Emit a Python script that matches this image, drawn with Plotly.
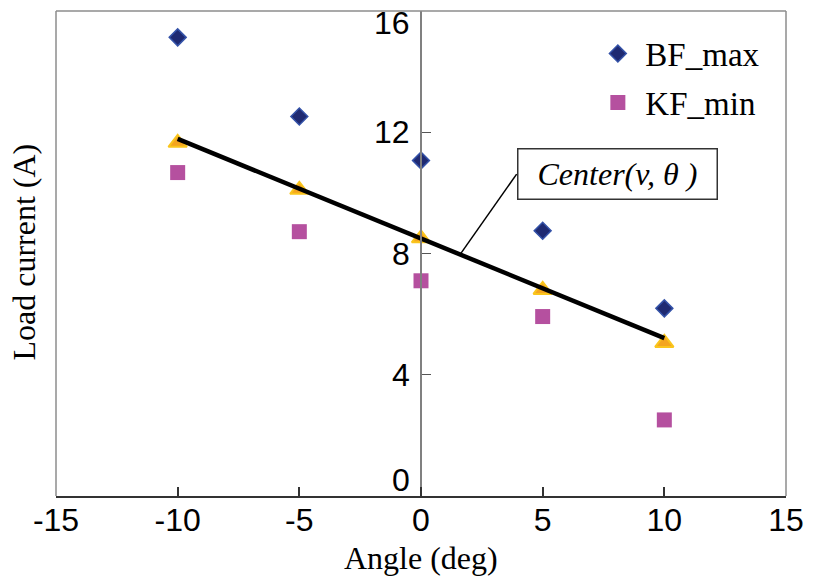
import plotly.graph_objects as go

# Measured load current versus angle
angle = [-10, -5, 0, 5, 10]
bf_max = [15.13, 12.52, 11.07, 8.75, 6.19]
kf_min = [10.67, 8.72, 7.10, 5.92, 2.51]
center = [11.65, 10.10, 8.50, 6.80, 5.05]

# Fitted centre line (end points)
line_x = [-10, 10]
line_y = [11.78, 5.21]

x_ticks = [-15, -10, -5, 0, 5, 10, 15]
y_ticks = [0, 4, 8, 12, 16]

SERIF = "Times New Roman, Liberation Serif, serif"
SANS = "Arial, Liberation Sans, sans-serif"

fig = go.Figure()

fig.add_trace(go.Scatter(
    x=angle, y=center, mode="markers", showlegend=False,
    marker=dict(symbol="triangle-up", size=16, color="#F4A51F",
                line=dict(color="#FAC51C", width=2)),
))
fig.add_trace(go.Scatter(
    x=line_x, y=line_y, mode="lines", showlegend=False,
    line=dict(color="black", width=4.5),
))
fig.add_trace(go.Scatter(
    x=angle, y=bf_max, mode="markers", name="BF_max", legendgroup="a",
    marker=dict(symbol="diamond", size=13, color="#1F2A72",
                line=dict(color="#3452A8", width=1.5)),
))
fig.add_trace(go.Scatter(
    x=angle, y=kf_min, mode="markers", name="KF_min", legendgroup="b",
    marker=dict(symbol="square", size=15, color="#B5509F",
                line=dict(color="#B5509F", width=0)),
))

# y tick labels beside the centred axis (end labels nudged inward)
shift = {0: 16, 16: -12}
for v in y_ticks:
    fig.add_annotation(
        x=0, y=v, xref="x", yref="y", text=str(v), showarrow=False,
        xanchor="right", yanchor="middle", xshift=-9, yshift=shift.get(v, 0),
        font=dict(family=SANS, size=32, color="black"),
    )

# Axis titles
fig.add_annotation(
    x=-0.0432, y=0.503, xref="paper", yref="paper", text="Load current (A)",
    textangle=-90, showarrow=False, xanchor="center", yanchor="middle",
    font=dict(family=SERIF, size=32, color="black"),
)
fig.add_annotation(
    x=0.5, y=-0.128, xref="paper", yref="paper", text="Angle (deg)",
    showarrow=False, xanchor="center", yanchor="middle",
    font=dict(family=SERIF, size=32, color="black"),
)

# Callout for the centre line
box_x, box_y = 3.93, 10.62
tip_x, tip_y = 1.61, 7.97
fig.add_shape(type="line", xref="x", yref="y", x0=tip_x, y0=tip_y,
              x1=box_x, y1=box_y, line=dict(color="black", width=1.5))
fig.add_annotation(
    x=box_x, y=box_y, xref="x", yref="y", text="<i>Center(v, θ )</i>",
    showarrow=False, xanchor="left", yanchor="middle",
    width=194, height=45, borderpad=2, borderwidth=1.5, bordercolor="#333",
    bgcolor="white", font=dict(family=SERIF, size=32, color="black"),
)

# Plot frame
frame = dict(color="#8C8C8C", width=1.5)
fig.add_shape(type="line", xref="paper", yref="paper", x0=0, y0=0, x1=0, y1=1, line=frame)
fig.add_shape(type="line", xref="paper", yref="paper", x0=0, y0=1, x1=1, y1=1, line=frame)
fig.add_shape(type="line", xref="paper", yref="paper", x0=1, y0=0, x1=1, y1=1, line=frame)

fig.update_layout(
    width=815, height=577, autosize=False,
    margin=dict(l=56, r=19, t=11, b=81),
    plot_bgcolor="white", paper_bgcolor="white",
    font=dict(family=SERIF, color="black"),
    xaxis=dict(
        range=[-15, 15], tickvals=x_ticks, ticktext=[str(v) for v in x_ticks],
        showgrid=False, zeroline=False, showline=True, linecolor="#333",
        linewidth=1.5, ticks="inside", ticklen=9, tickcolor="#333", tickwidth=1.5,
        ticklabelstandoff=-5,
        tickfont=dict(family=SANS, size=32, color="black"),
    ),
    yaxis=dict(
        range=[0, 16], tickvals=y_ticks, showticklabels=False,
        anchor="free", position=0.5, side="left",
        showgrid=False, zeroline=False, showline=True, linecolor="#808080",
        linewidth=1.5, ticks="inside", ticklen=9, tickcolor="#555", tickwidth=1.2,
    ),
    legend=dict(
        x=0.732, y=0.97, xanchor="left", yanchor="top",
        traceorder="grouped", tracegroupgap=3, itemwidth=45,
        bgcolor="rgba(0,0,0,0)",
        font=dict(family=SERIF, size=33, color="black"),
    ),
)

fig.write_html("out.html")
